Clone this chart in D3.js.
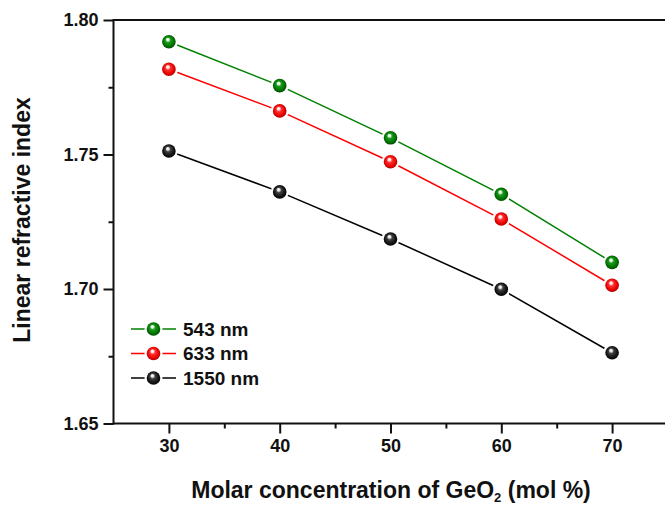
<!DOCTYPE html>
<html lang="en">
<head>
    <meta charset="UTF-8">
    <title>Linear refractive index vs GeO2</title>
    <script src="https://d3js.org/d3.v7.min.js"></script>
    <style>
        body { margin: 0; background: #fff; }
        svg { display: block; font-family: Arial, "Liberation Sans", sans-serif; }
        .tick text { font-size: 18px; font-weight: bold; fill: #111; }
    </style>
</head>
<body>
    <svg id="chart" width="665" height="507"></svg>

    <script>
        // Data
        const concentration = [30, 40, 50, 60, 70];
        const n543 = [1.7919, 1.7756, 1.7562, 1.7352, 1.7099];
        const n633 = [1.7817, 1.7662, 1.7473, 1.7260, 1.7014];
        const n1550 = [1.7513, 1.7361, 1.7186, 1.6999, 1.6763];
        const seriesNames = ["543 nm", "633 nm", "1550 nm"];
        const seriesColors = ["#008000", "#ff0000", "#000000"];
        const yTicks = [1.65, 1.70, 1.75, 1.80];

        const series = [n543, n633, n1550].map((vals, i) => ({
            name: seriesNames[i],
            color: seriesColors[i],
            points: vals.map((v, j) => ({ x: concentration[j], y: v }))
        }));

        const margin = { top: 20, left: 113.5, bottom: 423.5, right: 667.5 };
        const svg = d3.select("#chart");

        const x = d3.scaleLinear().domain([25, 75]).range([margin.left, margin.right]);
        const y = d3.scaleLinear().domain([1.65, 1.80]).range([margin.bottom, margin.top]);

        // sphere-like gradients
        const defs = svg.append("defs");
        const shades = [
            ["#d8f0d8", "#1a9a1a", "#007000", "#003800"],
            ["#ffe0e0", "#ff3030", "#e80000", "#900000"],
            ["#e0e0e0", "#404040", "#101010", "#000000"]
        ];
        shades.forEach((s, i) => {
            const g = defs.append("radialGradient")
                .attr("id", "ball" + i)
                .attr("cx", "0.5").attr("cy", "0.5").attr("r", "0.55")
                .attr("fx", "0.4").attr("fy", "0.3");
            g.append("stop").attr("offset", "0%").attr("stop-color", "#ffffff");
            g.append("stop").attr("offset", "18%").attr("stop-color", s[0]);
            g.append("stop").attr("offset", "35%").attr("stop-color", s[1]);
            g.append("stop").attr("offset", "75%").attr("stop-color", s[2]);
            g.append("stop").attr("offset", "100%").attr("stop-color", s[3]);
        });

        // Axes
        const xAxis = d3.axisBottom(x).tickValues(concentration).tickSize(10).tickPadding(5).tickFormat(d3.format("d"));
        const xMinor = d3.axisBottom(x).tickValues([35, 45, 55, 65, 75]).tickSize(5).tickFormat("");
        const yAxis = d3.axisLeft(y).tickValues(yTicks).tickSize(10).tickPadding(5).tickFormat(d3.format(".2f"));
        const yMinor = d3.axisLeft(y).tickValues([1.675, 1.725, 1.775]).tickSize(5).tickFormat("");

        const gx = svg.append("g").attr("transform", `translate(0,${margin.bottom})`).call(xAxis);
        svg.append("g").attr("transform", `translate(0,${margin.bottom})`).call(xMinor);
        const gy = svg.append("g").attr("transform", `translate(${margin.left},0)`).call(yAxis);
        svg.append("g").attr("transform", `translate(${margin.left},0)`).call(yMinor);

        svg.selectAll(".domain").remove();
        svg.selectAll(".tick line").attr("stroke", "#111").attr("stroke-width", 2);
        gx.selectAll(".tick text").attr("dy", "0.75em");

        // frame lines
        svg.append("line").attr("x1", margin.left).attr("x2", margin.right + 2)
            .attr("y1", margin.bottom).attr("y2", margin.bottom)
            .attr("stroke", "#111").attr("stroke-width", 2);
        svg.append("line").attr("x1", margin.left).attr("x2", margin.right + 2)
            .attr("y1", margin.top).attr("y2", margin.top)
            .attr("stroke", "#111").attr("stroke-width", 2);
        svg.append("line").attr("x1", margin.left).attr("x2", margin.left)
            .attr("y1", margin.top - 1).attr("y2", margin.bottom + 1)
            .attr("stroke", "#111").attr("stroke-width", 2);

        // Lines and markers
        const line = d3.line().x(d => x(d.x)).y(d => y(d.y));
        series.forEach((s, i) => {
            svg.append("path")
                .datum(s.points)
                .attr("fill", "none")
                .attr("stroke", s.color)
                .attr("stroke-width", 1.5)
                .attr("d", line);
            svg.selectAll(".halo" + i).data(s.points).enter().append("circle")
                .attr("cx", d => x(d.x)).attr("cy", d => y(d.y)).attr("r", 9)
                .attr("fill", "#fff");
            svg.selectAll(".ball" + i).data(s.points).enter().append("circle")
                .attr("cx", d => x(d.x)).attr("cy", d => y(d.y)).attr("r", 6.8)
                .attr("fill", `url(#ball${i})`);
        });

        // Legend
        const legend = svg.append("g").attr("transform", "translate(131,329)");
        series.forEach((s, i) => {
            const row = legend.append("g").attr("transform", `translate(0,${i * 24.5})`);
            row.append("line").attr("x1", 0).attr("x2", 45).attr("y1", 0).attr("y2", 0)
                .attr("stroke", s.color).attr("stroke-width", 1.5);
            row.append("circle").attr("cx", 22.5).attr("cy", 0).attr("r", 9).attr("fill", "#fff");
            row.append("circle").attr("cx", 22.5).attr("cy", 0).attr("r", 6.8).attr("fill", `url(#ball${i})`);
            row.append("text").attr("x", 52).attr("y", 0).attr("dy", "0.36em")
                .attr("font-size", "19px").attr("font-weight", "bold").attr("fill", "#111")
                .text(s.name);
        });

        // Axis titles
        svg.append("text")
            .attr("transform", "rotate(-90)")
            .attr("x", -220).attr("y", 30)
            .attr("text-anchor", "middle")
            .attr("font-size", "23px").attr("font-weight", "bold").attr("fill", "#111")
            .text("Linear refractive index");

        const xt = svg.append("text")
            .attr("x", 391).attr("y", 498)
            .attr("text-anchor", "middle")
            .attr("font-size", "23px").attr("font-weight", "bold").attr("fill", "#111");
        xt.append("tspan").text("Molar concentration of GeO");
        xt.append("tspan").attr("font-size", "13px").attr("dy", 4).text("2");
        xt.append("tspan").attr("dy", -4).text(" (mol %)");
    </script>
</body>
</html>
